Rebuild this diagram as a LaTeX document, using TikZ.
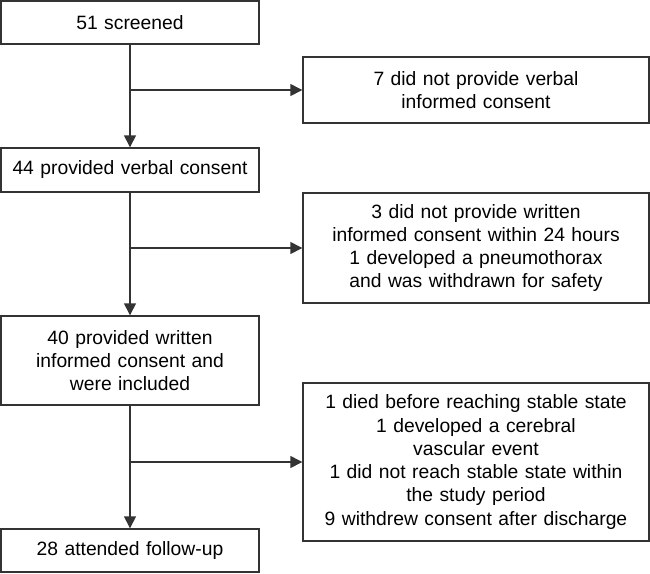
\documentclass[tikz,border=0pt]{standalone}
\usepackage{fontspec}
\setmainfont{Liberation Sans}
\usetikzlibrary{arrows.meta,positioning}
\definecolor{LineGray}{HTML}{333333}

\begin{document}
\begin{tikzpicture}[x=1pt,y=-1pt,
  stagebox/.style={draw=LineGray,line width=1.4pt,minimum width=258pt,
    text width=250pt,align=center,inner sep=3pt,
    font=\fontsize{19.3}{23.3}\selectfont},
  exclbox/.style={stagebox,minimum width=346pt,text width=338pt},
  flow/.style={-{Triangle[length=12pt,width=12pt]},line width=1.4pt,LineGray}]
  \useasboundingbox (0,0) rectangle (650,573);
  % main stages
  \node[stagebox,minimum height=43pt] (screen) at (130,22.5) {51 screened};
  \node[stagebox,minimum height=44pt] (verbal) at (130,170) {44 provided verbal consent};
  \node[stagebox,minimum height=89pt] (written) at (130,360.5)
    {40 provided written\\ informed consent and\\ were included};
  \node[stagebox,minimum height=43pt] (follow) at (130,550.5) {28 attended follow-up};
  % exclusions
  \node[exclbox,minimum height=66pt] (nover) at (476,90)
    {7 did not provide verbal\\ informed consent};
  \node[exclbox,minimum height=110pt] (nowrit) at (476,248)
    {3 did not provide written\\ informed consent within 24 hours\\
     1 developed a pneumothorax\\ and was withdrawn for safety};
  \node[exclbox,minimum height=158pt] (nostab) at (476,462)
    {1 died before reaching stable state\\ 1 developed a cerebral\\
     vascular event\\ 1 did not reach stable state within\\
     the study period\\ 9 withdrew consent after discharge};
  % connectors
  \draw[flow] (screen) -- (verbal);
  \draw[flow] (verbal) -- (written);
  \draw[flow] (written) -- (follow);
  \draw[flow] (screen |- nover.west) -- (nover.west);
  \draw[flow] (verbal |- nowrit.west) -- (nowrit.west);
  \draw[flow] (written |- nostab.west) -- (nostab.west);
\end{tikzpicture}
\end{document}
